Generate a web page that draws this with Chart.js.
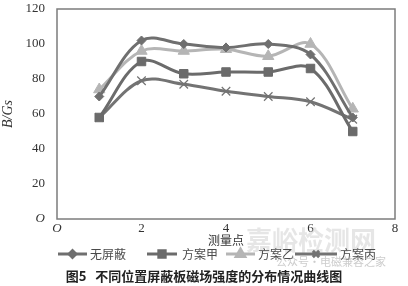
<!DOCTYPE html>
<html>
<head>
<meta charset="utf-8">
<script src="https://cdn.jsdelivr.net/npm/chart.js@4.4.1/dist/chart.umd.min.js"></script>
<style>
  html, body { margin: 0; padding: 0; background: #fff; }
  #wrap { position: relative; width: 408px; height: 286px; }
</style>
</head>
<body>
<div id="wrap"><canvas id="fieldChart" width="408" height="286"></canvas></div>
<script>
// measuring points and field strength B (Gs)
var points = [1, 2, 3, 4, 5, 6, 7];
var seriesNames = ['无屏蔽', '方案甲', '方案乙', '方案丙'];
var noShield = [70, 102, 100, 98, 100, 94, 58];
var planA = [58, 90, 83, 84, 84, 86, 50];
var planB = [74, 96, 96, 97, 93, 100, 63];
var planC = [58, 79, 77, 73, 70, 67, 57];
var xTicks = [0, 2, 4, 6, 8];
var yTicks = [0, 20, 40, 60, 80, 100, 120];

function toXY(vals) {
    return vals.map(function (v, i) { return { x: points[i], y: v }; });
}

var styles = [
    { color: '#6f6f6f', point: 'rectRot', r: 4.5, bw: 1 },
    { color: '#6b6b6b', point: 'rect', r: 6, bw: 1 },
    { color: '#b5b5b5', point: 'triangle', r: 6.5, bw: 1 },
    { color: '#737373', point: 'crossRot', r: 6, bw: 1.2 }
];
var allSeries = [noShield, planA, planB, planC];

var datasets = allSeries.map(function (vals, i) {
    var s = styles[i];
    return {
        label: seriesNames[i],
        data: toXY(vals),
        borderColor: s.color,
        backgroundColor: s.color,
        borderWidth: 3,
        pointStyle: s.point,
        pointRadius: s.r,
        pointBorderWidth: s.bw,
        pointBorderColor: s.color,
        pointBackgroundColor: s.color,
        tension: 0.35
    };
});

var frameAndText = {
    id: 'frameAndText',
    afterDraw: function (chart) {
        var ctx = chart.ctx;
        var a = chart.chartArea;
        ctx.save();
        ctx.strokeStyle = '#7c7c7c';
        ctx.lineWidth = 1.5;
        ctx.strokeRect(a.left, a.top, a.right - a.left, a.bottom - a.top);

        // watermark
        ctx.fillStyle = 'rgba(200,200,200,0.45)';
        ctx.font = 'bold 26px "Noto Sans CJK SC"';
        ctx.textBaseline = 'middle';
        ctx.textAlign = 'left';
        ctx.fillText('嘉峪检测网', 246, 240);

        // x title
        ctx.fillStyle = '#333';
        ctx.font = '12px "Noto Sans CJK SC"';
        ctx.textAlign = 'center';
        ctx.fillText('测量点', 226, 240);
        ctx.textAlign = 'left';

        // legend
        var items = [[58, 87, 90], [147, 177, 182], [226, 255, 258], [295, 337, 340]];
        items.forEach(function (it, i) {
            var ds = chart.data.datasets[i];
            var y = 254;
            ctx.strokeStyle = ds.borderColor;
            ctx.lineWidth = 3;
            ctx.beginPath();
            ctx.moveTo(it[0], y);
            ctx.lineTo(it[1], y);
            ctx.stroke();
            Chart.helpers.drawPoint(ctx, {
                pointStyle: ds.pointStyle,
                radius: ds.pointRadius * 0.75,
                borderWidth: 1
            }, (it[0] + it[1]) / 2, y);
            ctx.fillStyle = ds.borderColor;
            ctx.fill();
            ctx.fillStyle = '#4a4a4a';
            ctx.fillText(ds.label, it[2], y);
        });

        ctx.fillStyle = 'rgba(170,170,170,0.6)';
        ctx.font = '11px "Noto Sans CJK SC"';
        ctx.fillText('公众号·电磁兼容之家', 276, 262);

        // caption
        ctx.fillStyle = '#222';
        ctx.font = 'bold 13px "Noto Sans CJK SC"';
        ctx.textAlign = 'center';
        ctx.fillText('图5   不同位置屏蔽板磁场强度的分布情况曲线图', 204, 276);
        ctx.restore();
    }
};

var ctx = document.getElementById('fieldChart').getContext('2d');
var fieldChart = new Chart(ctx, {
    type: 'line',
    data: { datasets: datasets },
    options: {
        responsive: false,
        animation: false,
        layout: { padding: { top: 9, right: 13, left: 0, bottom: 0 } },
        plugins: { legend: { display: false }, tooltip: { enabled: false } },
        scales: {
            x: {
                type: 'linear',
                min: 0,
                max: 8,
                afterBuildTicks: function (s) { s.ticks = xTicks.map(function (v) { return { value: v }; }); },
                afterFit: function (s) { s.height = 67; s.paddingLeft = 0; s.paddingRight = 0; },
                grid: { display: false, drawTicks: false },
                border: { display: false },
                ticks: {
                    padding: 2,
                    color: '#333',
                    font: function (c) {
                        return { family: 'Liberation Serif', size: 13, style: c.tick && c.tick.value === 0 ? 'italic' : 'normal' };
                    },
                    callback: function (v) { return v === 0 ? 'O' : v; }
                }
            },
            y: {
                min: 0,
                max: 120,
                afterBuildTicks: function (s) { s.ticks = yTicks.map(function (v) { return { value: v }; }); },
                afterFit: function (s) { s.width = 57; s.paddingTop = 0; s.paddingBottom = 0; },
                grid: { display: false, drawTicks: false },
                border: { display: false },
                ticks: {
                    padding: 12,
                    color: '#333',
                    font: function (c) {
                        return { family: 'Liberation Serif', size: 13, style: c.tick && c.tick.value === 0 ? 'italic' : 'normal' };
                    },
                    callback: function (v) { return v === 0 ? 'O' : v; }
                },
                title: {
                    display: true,
                    text: 'B/Gs',
                    color: '#333',
                    font: { family: 'Liberation Serif', size: 14, style: 'italic' },
                    padding: { top: 0, bottom: 0 }
                }
            }
        }
    },
    plugins: [frameAndText]
});
</script>
</body>
</html>
